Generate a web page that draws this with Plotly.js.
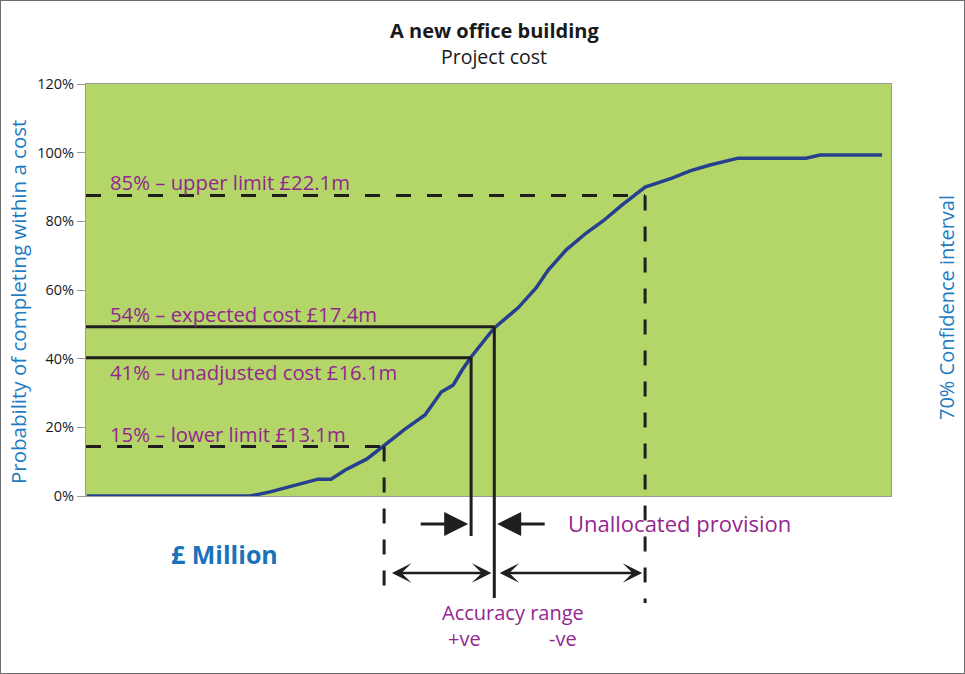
<!DOCTYPE html>
<html>
<head>
<meta charset="utf-8">
<script src="https://cdn.plot.ly/plotly-3.0.1.min.js"></script>
<style>
  html, body { margin: 0; padding: 0; background: #fff; }
  #plot { position: absolute; left: 0; top: 0; width: 965px; height: 674px; }
  #frame { position: absolute; left: 0; top: 0; width: 965px; height: 674px; box-sizing: border-box; border: 1px solid #6e6e6e; pointer-events: none; }
</style>
</head>
<body>
<div id="plot"></div>
<div id="frame"></div>
<script>
// ---- Data (cost in £ million, probability in %) ----
const costM = [2.85, 8.48, 9.17, 10.27, 10.82, 11.27, 11.76, 12.51, 13.1, 13.82, 14.51, 15.07, 15.48, 15.79, 16.1, 16.48, 16.89, 17.27, 17.72, 18.34, 18.76, 19.38, 20.07, 20.65, 21.31, 22.1, 23.03, 23.65, 24.34, 25.31, 27.65, 28.13, 30.27];
const probPct = [0, 0, 1.2, 3.5, 4.9, 4.9, 7.6, 10.8, 14.6, 19.5, 23.6, 30.3, 32.3, 36.7, 40.5, 44.6, 48.9, 51.6, 54.8, 60.6, 65.8, 71.7, 76.6, 80.1, 84.8, 90.0, 92.6, 94.7, 96.4, 98.4, 98.4, 99.3, 99.3];

const refLabels = ["15% – lower limit £13.1m", "41% – unadjusted cost £16.1m", "54% – expected cost £17.4m", "85% – upper limit £22.1m"];
const refCost = [13.1, 16.1, 16.9, 22.1];   // where the guide lines meet the curve
const refProb = [14.4, 40.3, 49.3, 87.5];

const yTickVals = [0, 20, 40, 60, 80, 100, 120];
const yTickText = ["0%", "20%", "40%", "60%", "80%", "100%", "120%"];

const xRange = [2.82, 30.58];
const yRange = [0, 120];

// ---- geometry helpers (plot area: x 86..891, y 84..496 px) ----
const PL = 86, PR = 891, PT = 84, PB = 496;
const px = x => (x - PL) / (PR - PL);
const py = y => (PB - y) / (PB - PT);
const pctToPaper = v => (v - yRange[0]) / (yRange[1] - yRange[0]);

const purple = "#93278f";
const blue = "#1f7cc1";
const black = "#1f1f1f";
const FONT = "Open Sans, DejaVu Sans, sans-serif";

const shapes = [];
const styles = ["dash", "solid", "solid", "dash"];
const bottoms = [598, 536, 598, 603];
for (let i = 0; i < refCost.length; i++) {
  shapes.push({ type: "line", xref: "x", yref: "y", x0: xRange[0], x1: refCost[i], y0: refProb[i], y1: refProb[i],
    line: { color: black, width: 3, dash: styles[i] === "dash" ? "15px,16px" : "solid" } });
  shapes.push({ type: "line", xref: "x", yref: "paper", x0: refCost[i], x1: refCost[i], y0: pctToPaper(refProb[i]), y1: py(bottoms[i]),
    line: { color: black, width: 3, dash: styles[i] === "dash" ? "15px,16px" : "solid" } });
}

const labelY = [434, 372, 314, 182];
const annotations = [];
for (let i = 0; i < refLabels.length; i++) {
  annotations.push({ xref: "paper", yref: "paper", x: px(108), y: py(labelY[i]), xanchor: "left", yanchor: "middle",
    text: refLabels[i], showarrow: false, font: { family: FONT, size: 20.3, color: purple } });
}
// titles
annotations.push({ xref: "paper", yref: "paper", x: px(494), y: py(30), xanchor: "center", yanchor: "middle",
  text: "<b>A new office building</b>", showarrow: false, font: { family: FONT, size: 20, color: "#1a1a1a" } });
annotations.push({ xref: "paper", yref: "paper", x: px(494), y: py(57), xanchor: "center", yanchor: "middle",
  text: "Project cost", showarrow: false, font: { family: FONT, size: 19.5, color: "#1a1a1a" } });
annotations.push({ xref: "paper", yref: "paper", x: px(18), y: py(302), xanchor: "center", yanchor: "middle", textangle: -90,
  text: "Probability of completing within a cost", showarrow: false, font: { family: FONT, size: 20.5, color: blue } });
annotations.push({ xref: "paper", yref: "paper", x: px(946), y: py(308), xanchor: "center", yanchor: "middle", textangle: -90,
  text: "70% Confidence interval", showarrow: false, font: { family: FONT, size: 20, color: blue } });
annotations.push({ xref: "paper", yref: "paper", x: px(224), y: py(554), xanchor: "center", yanchor: "middle",
  text: "<b>£ Million</b>", showarrow: false, font: { family: FONT, size: 25, color: "#1a72bb" } });
annotations.push({ xref: "paper", yref: "paper", x: px(566), y: py(523), xanchor: "left", yanchor: "middle",
  text: "Unallocated provision", showarrow: false, font: { family: FONT, size: 22, color: purple } });
annotations.push({ xref: "paper", yref: "paper", x: px(513), y: py(612), xanchor: "center", yanchor: "middle",
  text: "Accuracy range", showarrow: false, font: { family: FONT, size: 20, color: purple } });
annotations.push({ xref: "paper", yref: "paper", x: px(464), y: py(638), xanchor: "center", yanchor: "middle",
  text: "+ve", showarrow: false, font: { family: FONT, size: 20, color: purple } });
annotations.push({ xref: "paper", yref: "paper", x: px(563), y: py(638), xanchor: "center", yanchor: "middle",
  text: "-ve", showarrow: false, font: { family: FONT, size: 20, color: purple } });

// arrows (tips at the unadjusted / expected cost lines)
annotations.push({ xref: "x", yref: "paper", x: refCost[1] - 0.1, y: py(524), ax: -49, ay: 0, text: "", showarrow: true,
  arrowhead: 2, arrowsize: 1.6, arrowwidth: 3, arrowcolor: black });
annotations.push({ xref: "x", yref: "paper", x: refCost[2] + 0.1, y: py(524), ax: 49, ay: 0, text: "", showarrow: true,
  arrowhead: 2, arrowsize: 1.6, arrowwidth: 3, arrowcolor: black });
annotations.push({ xref: "x", yref: "paper", x: refCost[2] - 0.1, y: py(573), ax: -101, ay: 0, text: "", showarrow: true,
  arrowhead: 3, arrowside: "end+start", arrowsize: 1.3, arrowwidth: 2.5, arrowcolor: black });
annotations.push({ xref: "x", yref: "paper", x: refCost[3] - 0.1, y: py(573), ax: -144, ay: 0, text: "", showarrow: true,
  arrowhead: 3, arrowside: "end+start", arrowsize: 1.3, arrowwidth: 2.5, arrowcolor: black });

const trace = {
  x: costM, y: probPct, type: "scatter", mode: "lines",
  line: { color: "#26408f", width: 3.5 }, hoverinfo: "skip", cliponaxis: false
};

const layout = {
  width: 965, height: 674,
  margin: { l: PL, r: 965 - PR, t: PT, b: 674 - PB, pad: 0 },
  paper_bgcolor: "#ffffff",
  plot_bgcolor: "#b4d567",
  showlegend: false,
  xaxis: { range: xRange, showticklabels: false, showgrid: false, zeroline: false, ticks: "",
    showline: true, mirror: true, linecolor: "#9a9a9a", linewidth: 1, fixedrange: true },
  yaxis: { range: yRange, tickvals: yTickVals, ticktext: yTickText, showgrid: false, zeroline: false,
    ticks: "outside", ticklen: 8, tickcolor: "#9a9a9a", tickwidth: 1,
    showline: true, mirror: true, linecolor: "#9a9a9a", linewidth: 1,
    tickfont: { family: FONT, size: 14.5, color: "#1a1a1a" }, fixedrange: true },
  shapes: shapes,
  annotations: annotations
};

Plotly.newPlot("plot", [trace], layout, { displayModeBar: false, staticPlot: true });
</script>
</body>
</html>
